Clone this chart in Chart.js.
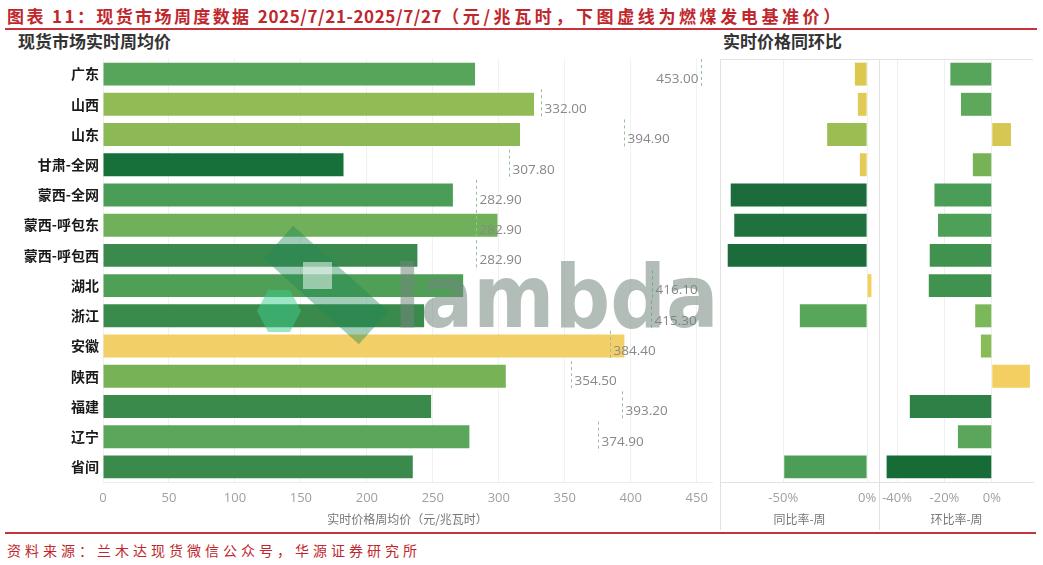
<!DOCTYPE html>
<html><head><meta charset="utf-8">
<script src="https://cdn.jsdelivr.net/npm/chart.js@4.4.1/dist/chart.umd.min.js"></script>
<style>
html,body{margin:0;padding:0;background:#fff;}
body{width:1043px;height:565px;position:relative;overflow:hidden;font-family:"Noto Sans CJK SC",sans-serif;}
.a{position:absolute;}
#title{left:7px;top:5px;font-size:17px;font-weight:700;color:#c0272d;letter-spacing:2.4px;white-space:nowrap;line-height:22px;}
#title .n{letter-spacing:0.6px;}
#title .t{letter-spacing:3.6px;}
.rule{height:2px;background:#c8323a;}
.sub{font-size:17px;font-weight:700;color:#333;line-height:22px;white-space:nowrap;}
#foot{left:7px;top:540px;font-size:14px;color:#c0272d;letter-spacing:4px;white-space:nowrap;line-height:20px;}
canvas{position:absolute;top:0;}
.vl{position:absolute;width:1px;background:#e2e2e2;}
.hl{position:absolute;height:1px;background:#e2e2e2;}
</style></head><body>
<div id="title" class="a">图表 11：现货市场周度数据 <span class="n">2025/7/21-2025/7/27</span><span class="t">（元/兆瓦时，下图虚线为燃煤发电基准价）</span></div>
<div class="a rule" style="left:5px;top:28px;width:1032px;"></div>
<div class="a sub" style="left:18px;top:30px;">现货市场实时周均价</div>
<div class="a sub" style="left:723px;top:30px;">实时价格同环比</div>

<canvas id="c1" width="720" height="535" style="left:0px;"></canvas>
<canvas id="c2" width="160" height="535" style="left:720px;"></canvas>
<canvas id="c3" width="163" height="535" style="left:880px;"></canvas>

<div class="hl" style="left:720px;top:59px;width:313px;"></div>
<div class="vl" style="left:720px;top:59px;height:471px;"></div>
<div class="vl" style="left:879px;top:59px;height:471px;"></div>

<div class="a" style="left:262px;top:263px;width:128px;height:44px;background:rgba(30,135,85,0.42);transform:rotate(42deg);"></div>
<div class="a" style="left:303px;top:262px;width:29px;height:27px;background:rgba(235,245,240,0.55);"></div>
<div class="a" style="left:257px;top:290px;width:44px;height:42px;background:rgba(60,205,140,0.5);clip-path:polygon(25% 0,75% 0,100% 50%,75% 100%,25% 100%,0 50%);"></div>
<div class="a" style="left:394px;top:253px;font-family:'DejaVu Sans';font-weight:bold;font-size:88px;line-height:1;color:rgba(115,135,125,0.55);transform:scaleX(0.885);transform-origin:left top;white-space:nowrap;">lambda</div>

<div class="a rule" style="left:5px;top:532px;width:1031px;"></div>
<div id="foot" class="a">资料来源：兰木达现货微信公众号，华源证券研究所</div>

<script>
const categories = ['广东','山西','山东','甘肃-全网','蒙西-全网','蒙西-呼包东','蒙西-呼包西','湖北','浙江','安徽','陕西','福建','辽宁','省间'];
const price = [282.0, 326.7, 316.1, 182.3, 265.2, 299.0, 238.3, 273.0, 243.4, 395.2, 305.3, 248.7, 277.7, 234.8];
const benchmark = [453.00, 332.00, 394.90, 307.80, 282.90, 282.90, 282.90, 416.10, 415.30, 384.40, 354.50, 393.20, 374.90, null];
const yoy = [-7.3, -5.5, -23.8, -4.3, -81.3, -79.2, -83.1, 2.6, -40.1, null, null, null, null, -49.4];
const mom = [-17.5, -13.0, 8.1, -8.0, -24.2, -22.7, -26.2, -26.6, -7.0, -4.6, 16.1, -34.6, -14.3, -44.4];
const priceTicks = [0, 50, 100, 150, 200, 250, 300, 350, 400, 450];
const yoyTicks = [-50, 0];
const momTicks = [-40, -20, 0];

const priceColors = ['#57a55a','#93bb55','#8db856','#17703a','#4a9d57','#70b05a','#3b8a4d','#4f9f56','#3a8a4c','#f3d067','#77b257','#3a8a4c','#5aa65b','#3a8a4c'];
const yoyColors = ['#dcc84f','#e2ca56','#9bbd52','#e6ca56','#1b6b3b','#1f723e','#1b6b3b','#f2cf5e','#58a65a','#cccccc','#cccccc','#cccccc','#cccccc','#4c9e56'];
const momColors = ['#57a55a','#5ea85c','#d5c752','#76b357','#4a9d57','#4e9f58','#40924f','#40924f','#7ab85a','#89bc56','#f2cf60','#2f8046','#5aa65b','#176b37'];

Chart.defaults.font.family = "'Open Sans', sans-serif";
Chart.defaults.animation = false;

const benchPlugin = {
  id: 'bench',
  afterDatasetsDraw(chart) {
    const {ctx, chartArea, scales: {x, y}} = chart;
    const rowH = (chartArea.bottom - chartArea.top) / categories.length;
    ctx.save();
    ctx.font = '13.5px "Open Sans"';
    ctx.textBaseline = 'middle';
    benchmark.forEach((v, i) => {
      if (v == null) return;
      const px = Math.round(x.getPixelForValue(v)) + 0.5;
      const cy = y.getPixelForValue(i);
      ctx.strokeStyle = '#98c098';
      ctx.lineWidth = 1;
      ctx.setLineDash([3, 3]);
      ctx.beginPath();
      ctx.moveTo(px, cy - rowH / 2);
      ctx.lineTo(px, cy + rowH / 2);
      ctx.stroke();
      const txt = v.toFixed(2);
      const w = ctx.measureText(txt).width;
      ctx.fillStyle = '#888888';
      if (px + 3 + w > chartArea.right) {
        ctx.textAlign = 'right';
        ctx.fillText(txt, px - 3, cy + 5);
      } else {
        ctx.textAlign = 'left';
        ctx.fillText(txt, px + 3, cy + 5);
      }
    });
    ctx.restore();
  }
};

const tickFont = {family: "'Open Sans'", size: 13};
const titleFont = {family: '"Noto Sans CJK SC"', size: 12};
const fitX = s => { s.height = 53; s.paddingLeft = 0; s.paddingRight = 0; };

new Chart(document.getElementById('c1'), {
  type: 'bar',
  data: {labels: categories, datasets: [{data: price, backgroundColor: priceColors, barPercentage: 0.76, categoryPercentage: 1}]},
  options: {
    indexAxis: 'y', responsive: false,
    layout: {padding: {top: 59, right: 8, left: 0, bottom: 0}},
    plugins: {legend: {display: false}, tooltip: {enabled: false}},
    scales: {
      x: {
        min: 0, max: 461.6,
        afterBuildTicks: s => { s.ticks = priceTicks.map(v => ({value: v})); },
        afterFit: fitX,
        grid: {color: '#f1f1f1', drawTicks: false},
        border: {display: true, color: '#ececec'},
        ticks: {font: tickFont, color: '#a0a0a0', padding: 8},
        title: {display: true, text: '实时价格周均价（元/兆瓦时）', font: titleFont, color: '#777', padding: {top: 0, bottom: 8}}
      },
      y: {
        afterFit: s => { s.width = 103; },
        grid: {display: false, drawTicks: false},
        border: {display: false},
        ticks: {font: {family: '"Noto Sans CJK SC"', size: 14, weight: 'bold'}, color: '#1a1a1a', padding: 4}
      }
    }
  },
  plugins: [benchPlugin]
});

function sideChart(id, values, colors, min, max, ticks, title, padRight) {
  new Chart(document.getElementById(id), {
    type: 'bar',
    data: {labels: categories, datasets: [{data: values, backgroundColor: colors, barPercentage: 0.76, categoryPercentage: 1}]},
    options: {
      indexAxis: 'y', responsive: false,
      layout: {padding: {top: 59, right: padRight, left: 0, bottom: 0}},
      plugins: {legend: {display: false}, tooltip: {enabled: false}},
      scales: {
        x: {
          min: min, max: max,
          afterBuildTicks: s => { s.ticks = ticks.map(v => ({value: v})); },
          afterFit: fitX,
          grid: {color: '#efefef', drawTicks: false},
          border: {display: true, color: '#e2e2e2'},
          ticks: {font: tickFont, color: '#a0a0a0', padding: 8, callback: v => v + '%'},
          title: {display: true, text: title, font: titleFont, color: '#777', padding: {top: 0, bottom: 8}}
        },
        y: {display: false}
      }
    }
  });
}
sideChart('c2', yoy, yoyColors, -87.7, 7.1, yoyTicks, '同比率-周', 1);
sideChart('c3', mom, momColors, -47.2, 17.4, momTicks, '环比率-周', 10);
</script>
</body></html>
